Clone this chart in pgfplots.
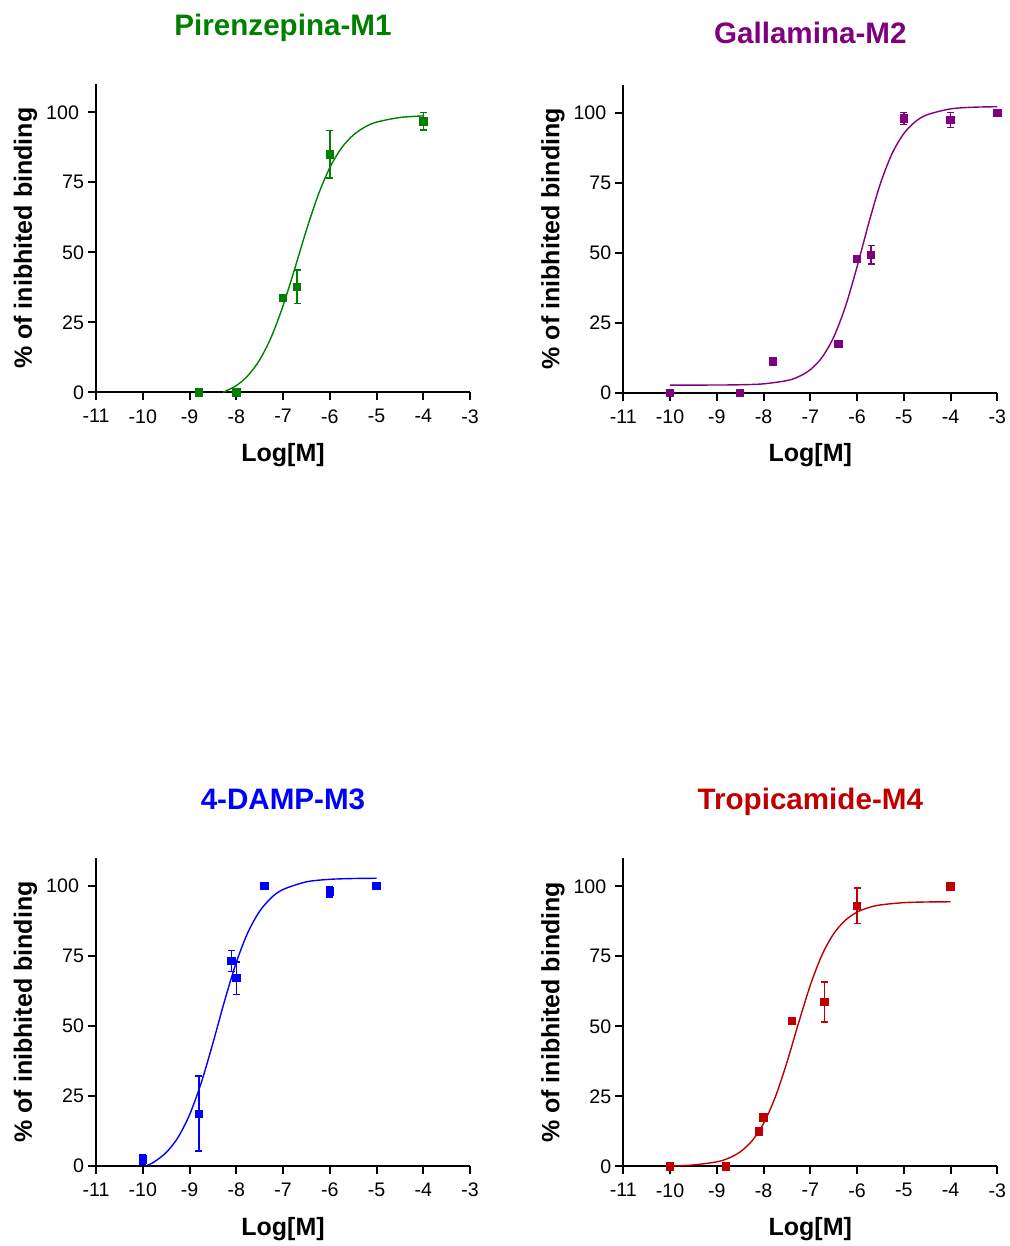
\documentclass[border=0pt]{standalone}
\usepackage{fontspec}
\setmainfont{Liberation Sans}
\usepackage{pgfplots}
\usepackage{pgfplotstable}
\pgfplotsset{compat=1.18}
\definecolor{cgreen}{RGB}{0,128,0}
\definecolor{cpurple}{RGB}{128,0,128}
\definecolor{cblue}{RGB}{0,0,255}
\definecolor{cred}{RGB}{192,0,0}

\pgfplotstableread{
x y e
-8.8 0 0
-8.0 0 0
-7.0 33.8 0
-6.7 37.7 6
-6.0 85.0 8.5
-4.0 96.8 3.1
}\dataA
\pgfplotstableread{
x y e
-10 0 0
-8.5 0 0
-7.8 11.2 0
-6.4 17.5 0
-6.0 47.7 0
-5.7 49.3 3.3
-5.0 97.9 2.2
-4.0 97.4 2.7
-3.0 100 0
}\dataB
\pgfplotstableread{
x y e
-10 2.4 1.6
-8.8 18.7 13.4
-8.1 73.2 3.7
-8.0 67.1 5.8
-7.4 100 0
-6.0 98.0 1.9
-5.0 100 0
}\dataC
\pgfplotstableread{
x y e
-10 0 0
-8.8 0 0
-8.1 12.5 0
-8.0 17.4 0
-7.4 51.9 0
-6.7 58.7 7.2
-6.0 93.1 6.3
-4.0 100 0
}\dataD

\pgfplotsset{
  panel/.style={
    scale only axis, width=187pt, height=154pt,
    xmin=-11, xmax=-3, ymin=0, ymax=110,
    axis x line*=bottom, axis y line*=left,
    axis line style={line width=1pt, black, -},
    xtick={-11,-10,-9,-8,-7,-6,-5,-4,-3},
    xticklabels={-11,-10,-9,-8,-7,-6,-5,-4,-3},
    ytick={0,25,50,75,100}, yticklabels={0,25,50,75,100\hspace*{2.5pt}},
    tick align=outside, major tick length=4pt,
    tick style={line width=1pt, black},
    tick label style={font=\fontsize{9.8}{11}\selectfont},
    yticklabel style={xshift=1.5pt},
    xticklabel style={yshift=-1pt},
    xlabel={Log[M]}, ylabel={\% of inibhited binding},
    every axis x label/.style={at={(axis description cs:0.5,0)}, anchor=base, yshift=-34.5pt, font=\bfseries\fontsize{12.5}{14}\selectfont},
    every axis y label/.style={at={(axis description cs:0,0.5)}, anchor=base, xshift=-32pt, rotate=90, font=\bfseries\fontsize{12.5}{14}\selectfont},
    every axis title/.style={at={(axis description cs:0.5,1)}, anchor=base, font=\bfseries\fontsize{14.8}{17}\selectfont},
    clip=false,
  },
  pts/.style={only marks, mark=square*, mark size=1.85pt,
    error bars/.cd, y dir=both, y explicit,
    error bar style={line width=0.75pt},
    error mark options={rotate=90, mark size=1.75pt, line width=0.75pt}},
  fit/.style={no markers, smooth, line width=0.7pt},
}

\begin{document}
\begin{tikzpicture}
\useasboundingbox (0,0) rectangle (505pt,623pt);

% Panel 1
\begin{axis}[panel, at={(48pt,426.85pt)}, anchor=south west,
  title={Pirenzepina-M1}, title style={yshift=24.5pt, text=cgreen}]
\addplot[cgreen, fit] coordinates {
(-8.28,0) (-8.0,2.38) (-7.75,5.96) (-7.5,11.55) (-7.25,19.77) (-7.0,30.84)
(-6.75,44.09) (-6.5,57.91) (-6.25,70.36) (-6.0,80.20) (-5.75,87.21)
(-5.5,91.82) (-5.25,94.72) (-5.0,96.48) (-4.5,98.14) (-4.0,98.71)};
\addplot[cgreen, pts] table[x=x, y=y, y error=e] {\dataA};
\end{axis}

% Panel 2
\begin{axis}[panel, at={(311.65pt,426.65pt)}, anchor=south west,
  title={Gallamina-M2}, title style={yshift=20.8pt, text=cpurple}]
\addplot[cpurple, fit] coordinates {
(-10,2.70) (-9,2.74) (-8.5,2.83) (-8,3.16) (-7.5,4.32) (-7.25,5.71) (-7,8.21)
(-6.75,12.59) (-6.5,19.83) (-6.25,30.71) (-6,44.95) (-5.75,60.57) (-5.5,74.70)
(-5.25,85.42) (-5,92.54) (-4.75,96.83) (-4.5,99.27) (-4,101.36) (-3.5,101.96) (-3,102.13)};
\addplot[cpurple, pts] table[x=x, y=y, y error=e] {\dataB};
\end{axis}

% Panel 3
\begin{axis}[panel, at={(48pt,40pt)}, anchor=south west,
  title={4-DAMP-M3}, title style={yshift=24pt, text=cblue}]
\addplot[cblue, fit] coordinates {
(-9.9,0.24) (-9.75,1.52) (-9.5,4.79) (-9.25,10.10) (-9.0,18.24) (-8.75,29.67)
(-8.5,43.84) (-8.25,58.95) (-8.0,72.68) (-7.75,83.45) (-7.5,90.97) (-7.25,95.81)
(-7.0,98.75) (-6.5,101.48) (-6.0,102.38) (-5.5,102.67) (-5.0,102.76)};
\addplot[cblue, pts] table[x=x, y=y, y error=e] {\dataC};
\end{axis}

% Panel 4
\begin{axis}[panel, at={(311.65pt,39.85pt)}, anchor=south west,
  title={Tropicamide-M4}, title style={yshift=24.6pt, text=cred}]
\addplot[cred, fit] coordinates {
(-10,0.14) (-9.5,0.48) (-9,1.60) (-8.75,2.89) (-8.5,5.15) (-8.25,9.02) (-8.0,15.3)
(-7.75,24.69) (-7.5,37.13) (-7.25,51.24) (-7.0,64.67) (-6.75,75.48) (-6.5,83.06)
(-6.25,87.89) (-6.0,90.77) (-5.75,92.42) (-5.5,93.35) (-5.0,94.16) (-4.5,94.40) (-4.0,94.47)};
\addplot[cred, pts] table[x=x, y=y, y error=e] {\dataD};
\end{axis}
\end{tikzpicture}
\end{document}
